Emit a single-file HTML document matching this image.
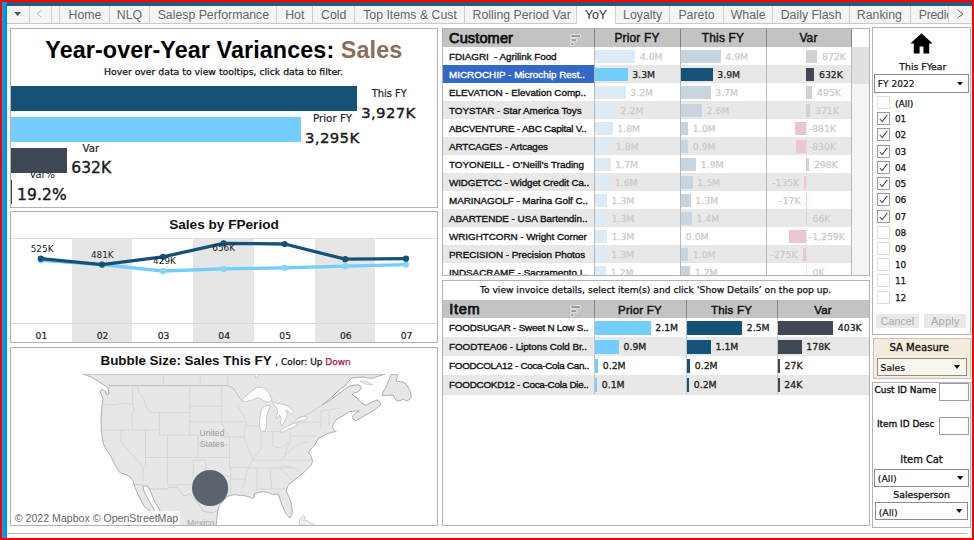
<!DOCTYPE html>
<html lang="en"><head><meta charset="utf-8"><title>Year-over-Year Variances: Sales</title>
<style>
html,body{margin:0;padding:0}
body{width:974px;height:540px;overflow:hidden;background:#ff0000;position:relative;font-family:"Liberation Sans",sans-serif}
.a{position:absolute;box-sizing:border-box}
.t{position:absolute;white-space:pre;display:block}
svg{position:absolute;overflow:visible}
</style></head><body>

<div class="a" style="left:2px;top:2px;width:970px;height:536px;background:#fff;"></div>
<div class="a" style="left:2px;top:2px;width:5px;height:536px;background:linear-gradient(90deg,#00a8ee,#0094dc 70%,#0a80bf);"></div>
<div class="a" style="left:7px;top:2px;width:965px;height:4px;background:#2a5978;"></div>
<div class="a" style="left:7px;top:6px;width:965px;height:18px;background:#f5f5f5;border-bottom:1px solid #c9c9c9;"></div>
<div class="a" style="left:29px;top:6px;width:1px;height:17px;background:#cfcfcf;"></div>
<div class="a" style="left:51px;top:6px;width:1px;height:17px;background:#cfcfcf;"></div>
<div class="a" style="left:59px;top:6px;width:1px;height:17px;background:#cfcfcf;"></div>
<div class="a" style="left:109px;top:6px;width:1px;height:17px;background:#cfcfcf;"></div>
<div class="a" style="left:149px;top:6px;width:1px;height:17px;background:#cfcfcf;"></div>
<div class="a" style="left:276px;top:6px;width:1px;height:17px;background:#cfcfcf;"></div>
<div class="a" style="left:312px;top:6px;width:1px;height:17px;background:#cfcfcf;"></div>
<div class="a" style="left:354px;top:6px;width:1px;height:17px;background:#cfcfcf;"></div>
<div class="a" style="left:464px;top:6px;width:1px;height:17px;background:#cfcfcf;"></div>
<div class="a" style="left:576px;top:6px;width:1px;height:17px;background:#cfcfcf;"></div>
<div class="a" style="left:615px;top:6px;width:1px;height:17px;background:#cfcfcf;"></div>
<div class="a" style="left:669px;top:6px;width:1px;height:17px;background:#cfcfcf;"></div>
<div class="a" style="left:723px;top:6px;width:1px;height:17px;background:#cfcfcf;"></div>
<div class="a" style="left:772px;top:6px;width:1px;height:17px;background:#cfcfcf;"></div>
<div class="a" style="left:849px;top:6px;width:1px;height:17px;background:#cfcfcf;"></div>
<div class="a" style="left:910px;top:6px;width:1px;height:17px;background:#cfcfcf;"></div>
<div class="a" style="left:948px;top:6px;width:1px;height:17px;background:#cfcfcf;"></div>
<div class="a" style="left:577px;top:6px;width:38px;height:18px;background:#fff;"></div>
<svg style="left:7px;top:6px" width="965" height="18"><path d="M7.2 6h6.9l-3.45 4z" fill="#555"/><path d="M34.8 4L30.1 7.8L34.8 11.6" fill="none" stroke="#bdbdbd" stroke-width="1"/><path d="M950.7 4L956 7.9L950.7 11.9" fill="none" stroke="#666" stroke-width="1"/></svg>
<span class="t" style="top:8.99px;font-size:12.3px;line-height:12.3px;color:#666;left:-215.0px;width:600px;text-align:center;">Home</span>
<span class="t" style="top:8.99px;font-size:12.3px;line-height:12.3px;color:#666;left:-170.5px;width:600px;text-align:center;">NLQ</span>
<span class="t" style="top:8.99px;font-size:12.3px;line-height:12.3px;color:#666;left:-86.65px;width:600px;text-align:center;">Salesp Performance</span>
<span class="t" style="top:8.99px;font-size:12.3px;line-height:12.3px;color:#666;left:-5.25px;width:600px;text-align:center;">Hot</span>
<span class="t" style="top:8.99px;font-size:12.3px;line-height:12.3px;color:#666;left:33.69999999999999px;width:600px;text-align:center;">Cold</span>
<span class="t" style="top:8.99px;font-size:12.3px;line-height:12.3px;color:#666;left:110.0px;width:600px;text-align:center;">Top Items &amp; Cust</span>
<span class="t" style="top:8.99px;font-size:12.3px;line-height:12.3px;color:#666;left:221.64999999999998px;width:600px;text-align:center;">Rolling Period Var</span>
<span class="t" style="top:8.99px;font-size:12.3px;line-height:12.3px;color:#333;left:296.0px;width:600px;text-align:center;">YoY</span>
<span class="t" style="top:8.99px;font-size:12.3px;line-height:12.3px;color:#666;left:342.6px;width:600px;text-align:center;">Loyalty</span>
<span class="t" style="top:8.99px;font-size:12.3px;line-height:12.3px;color:#666;left:396.54999999999995px;width:600px;text-align:center;">Pareto</span>
<span class="t" style="top:8.99px;font-size:12.3px;line-height:12.3px;color:#666;left:448.15px;width:600px;text-align:center;">Whale</span>
<span class="t" style="top:8.99px;font-size:12.3px;line-height:12.3px;color:#666;left:511.15px;width:600px;text-align:center;">Daily Flash</span>
<span class="t" style="top:8.99px;font-size:12.3px;line-height:12.3px;color:#666;left:579.4px;width:600px;text-align:center;">Ranking</span>
<div class="a" style="left:911px;top:6px;width:37px;height:17px;overflow:hidden"><span class="t" style="left:7.7px;top:2.6px;font-size:12.3px;line-height:12.3px;letter-spacing:-0.25px;color:#666">Predictions</span></div>
<div class="a" style="left:10px;top:28px;width:428px;height:180px;border:1px solid #b3b3b3;"></div>
<span class="t" style="left:45.3px;top:38.99px;font-size:23.3px;line-height:23.3px;letter-spacing:0.11px;font-weight:bold;color:#000">Year-over-Year Variances: <span style="color:#8b6d5c">Sales</span></span>
<span class="t" style="top:67.43px;font-size:9.3px;line-height:9.3px;color:#111;font-family:'DejaVu Sans', 'Liberation Sans', sans-serif;left:104px;-webkit-text-stroke:0.25px #111;">Hover over data to view tooltips, click data to filter.</span>
<span class="t" style="top:170.32px;font-size:9.9px;line-height:9.9px;color:#222;font-family:'DejaVu Sans', 'Liberation Sans', sans-serif;left:29.4px;">Var%</span>
<div class="a" style="left:11px;top:85.6px;width:346px;height:25px;background:#165277;"></div>
<div class="a" style="left:11px;top:117px;width:290px;height:25px;background:#73cefd;"></div>
<div class="a" style="left:11px;top:148px;width:56px;height:24.6px;background:#404754;"></div>
<div class="a" style="left:11px;top:179.5px;width:1.3px;height:24.5px;background:#404754;"></div>
<span class="t" style="top:88.82px;font-size:9.9px;line-height:9.9px;color:#222;font-family:'DejaVu Sans', 'Liberation Sans', sans-serif;left:371.8px;-webkit-text-stroke:0.2px #222;">This FY</span>
<span class="t" style="top:106.49px;font-size:14.9px;line-height:14.9px;color:#1a1a1a;letter-spacing:0.35px;font-family:'DejaVu Sans', 'Liberation Sans', sans-serif;left:361.2px;-webkit-text-stroke:0.4px #1a1a1a;">3,927K</span>
<span class="t" style="top:113.49px;font-size:10.3px;line-height:10.3px;color:#222;font-family:'DejaVu Sans', 'Liberation Sans', sans-serif;left:313px;-webkit-text-stroke:0.2px #222;">Prior FY</span>
<span class="t" style="top:131.39px;font-size:14.9px;line-height:14.9px;color:#1a1a1a;letter-spacing:0.35px;font-family:'DejaVu Sans', 'Liberation Sans', sans-serif;left:305px;-webkit-text-stroke:0.4px #1a1a1a;">3,295K</span>
<span class="t" style="top:143.57px;font-size:10.2px;line-height:10.2px;color:#222;font-family:'DejaVu Sans', 'Liberation Sans', sans-serif;left:82.5px;-webkit-text-stroke:0.2px #222;">Var</span>
<span class="t" style="top:160.99px;font-size:15.5px;line-height:15.5px;color:#1a1a1a;letter-spacing:0.1px;font-family:'DejaVu Sans', 'Liberation Sans', sans-serif;left:71.2px;-webkit-text-stroke:0.4px #1a1a1a;">632K</span>
<span class="t" style="top:188.19px;font-size:15.5px;line-height:15.5px;color:#1a1a1a;letter-spacing:0.1px;font-family:'DejaVu Sans', 'Liberation Sans', sans-serif;left:17px;-webkit-text-stroke:0.4px #1a1a1a;">19.2%</span>
<div class="a" style="left:10px;top:211px;width:428px;height:132px;border:1px solid #b3b3b3;"></div>
<span class="t" style="top:217.69px;font-size:13.6px;line-height:13.6px;color:#111;font-weight:bold;left:-76px;width:600px;text-align:center;">Sales by FPeriod</span>
<div class="a" style="left:71.7px;top:238.5px;width:60.7px;height:103.5px;background:#e6e6e6;"></div>
<div class="a" style="left:193.10000000000002px;top:238.5px;width:60.7px;height:103.5px;background:#e6e6e6;"></div>
<div class="a" style="left:314.5px;top:238.5px;width:60.7px;height:103.5px;background:#e6e6e6;"></div>
<div class="a" style="left:11px;top:238px;width:426px;height:1px;background:#e0e0e0;"></div>
<div class="a" style="left:11px;top:323px;width:426px;height:1px;background:#d6d6d6;"></div>
<svg style="left:0;top:0" width="974" height="540"><polyline points="40.8,260.3 102,264.6 163,271 223.6,268.9 284.6,267.8 345.2,266.2 406,264.6" fill="none" stroke="#73cefd" stroke-width="3.3" stroke-linejoin="round"/><circle cx="40.8" cy="260.3" r="3.1" fill="#84d4ff"/><circle cx="102" cy="264.6" r="3.1" fill="#84d4ff"/><circle cx="163" cy="271" r="3.1" fill="#84d4ff"/><circle cx="223.6" cy="268.9" r="3.1" fill="#84d4ff"/><circle cx="284.6" cy="267.8" r="3.1" fill="#84d4ff"/><circle cx="345.2" cy="266.2" r="3.1" fill="#84d4ff"/><circle cx="406" cy="264.6" r="3.1" fill="#84d4ff"/><polyline points="40.8,258.7 102,264.6 163,256.8 223.6,243.4 284.6,244 345.2,259.2 406,258.7" fill="none" stroke="#165277" stroke-width="3.3" stroke-linejoin="round"/><circle cx="40.8" cy="258.7" r="3.1" fill="#165277"/><circle cx="102" cy="264.6" r="3.1" fill="#165277"/><circle cx="163" cy="256.8" r="3.1" fill="#165277"/><circle cx="223.6" cy="243.4" r="3.1" fill="#165277"/><circle cx="284.6" cy="244" r="3.1" fill="#165277"/><circle cx="345.2" cy="259.2" r="3.1" fill="#165277"/><circle cx="406" cy="258.7" r="3.1" fill="#165277"/></svg>
<span class="t" style="top:331.22px;font-size:9.2px;line-height:9.2px;color:#222;font-family:'DejaVu Sans', 'Liberation Sans', sans-serif;left:-258.6px;width:600px;text-align:center;-webkit-text-stroke:0.2px #222;">01</span>
<span class="t" style="top:331.22px;font-size:9.2px;line-height:9.2px;color:#222;font-family:'DejaVu Sans', 'Liberation Sans', sans-serif;left:-197.4px;width:600px;text-align:center;-webkit-text-stroke:0.2px #222;">02</span>
<span class="t" style="top:331.22px;font-size:9.2px;line-height:9.2px;color:#222;font-family:'DejaVu Sans', 'Liberation Sans', sans-serif;left:-136.4px;width:600px;text-align:center;-webkit-text-stroke:0.2px #222;">03</span>
<span class="t" style="top:331.22px;font-size:9.2px;line-height:9.2px;color:#222;font-family:'DejaVu Sans', 'Liberation Sans', sans-serif;left:-75.80000000000001px;width:600px;text-align:center;-webkit-text-stroke:0.2px #222;">04</span>
<span class="t" style="top:331.22px;font-size:9.2px;line-height:9.2px;color:#222;font-family:'DejaVu Sans', 'Liberation Sans', sans-serif;left:-14.799999999999955px;width:600px;text-align:center;-webkit-text-stroke:0.2px #222;">05</span>
<span class="t" style="top:331.22px;font-size:9.2px;line-height:9.2px;color:#222;font-family:'DejaVu Sans', 'Liberation Sans', sans-serif;left:45.80000000000001px;width:600px;text-align:center;-webkit-text-stroke:0.2px #222;">06</span>
<span class="t" style="top:331.22px;font-size:9.2px;line-height:9.2px;color:#222;font-family:'DejaVu Sans', 'Liberation Sans', sans-serif;left:106.60000000000002px;width:600px;text-align:center;-webkit-text-stroke:0.2px #222;">07</span>
<span class="t" style="top:244.87px;font-size:8.9px;line-height:8.9px;color:#222;font-family:'DejaVu Sans', 'Liberation Sans', sans-serif;left:-257.9px;width:600px;text-align:center;">525K</span>
<span class="t" style="top:250.97px;font-size:8.9px;line-height:8.9px;color:#222;font-family:'DejaVu Sans', 'Liberation Sans', sans-serif;left:-197.7px;width:600px;text-align:center;">481K</span>
<span class="t" style="top:256.77px;font-size:8.9px;line-height:8.9px;color:#222;font-family:'DejaVu Sans', 'Liberation Sans', sans-serif;left:-135.5px;width:600px;text-align:center;">429K</span>
<span class="t" style="top:243.67px;font-size:8.9px;line-height:8.9px;color:#222;font-family:'DejaVu Sans', 'Liberation Sans', sans-serif;left:-76.30000000000001px;width:600px;text-align:center;">656K</span>
<div class="a" style="left:10px;top:347px;width:428px;height:179px;border:1px solid #b3b3b3;"></div>
<span class="t" style="top:353.76px;font-size:13.4px;line-height:13.4px;color:#111;font-weight:bold;left:100.5px;">Bubble Size: Sales This FY</span>
<span class="t" style="left:275.2px;top:358.49px;font-size:9px;line-height:9px;font-family:'DejaVu Sans', 'Liberation Sans', sans-serif;color:#111;-webkit-text-stroke:0.25px #111">, Color: Up <span style="color:#a3174b;-webkit-text-stroke:0.25px #a3174b">Down</span></span>
<svg style="left:11px;top:373px" width="426" height="152" viewBox="11 373 426 152"><defs><clipPath id="mc"><rect x="11" y="374" width="426" height="151"/></clipPath></defs><g clip-path="url(#mc)"><path d="M83,374 L385,374 L379,376 L372,378.5 L362,377 L352,378 L348,382 L346,385 L342,388 L338,391 L333,396 L327,401 L322,405 L329,401 L336,396 L341,392 L345,389 L350,386 L355,385 L359,385 L361.5,387 L360,390 L358,392 L354,393 L352,394.5 L355,396.5 L357,398 L359,400.5 L361,402.5 L364,404.5 L367,405 L370,403 L373,401.5 L377,400 L380,402 L380.7,405 L377,408 L371,412 L365,415.5 L360,418.5 L355.6,420.6 L353,419 L352.6,416 L355,413.5 L359.3,411 L355,411 L349,411.7 L345,414.5 L340,417.5 L335.6,420 L333.5,423.5 L332.6,427.3 L334,430 L336.3,431.7 L333,432 L328,433.5 L323,436 L319.3,437.6 L317,441 L314.8,445 L312.5,447.5 L310,450 L308.5,453 L310.5,455 L311.7,457.7 L312.5,461.5 L311,465.4 L307,469.5 L303.2,473 L297,478 L291,482.3 L287.5,486.5 L286.3,490.8 L288,495 L290,499.3 L291.5,505 L292.4,511.6 L291.5,515.5 L290,517.8 L288,516.5 L286.3,514.7 L284,509.5 L281.6,504 L280,499 L278.6,494.7 L275.5,494 L272.4,494.7 L268,492.5 L263.2,491.6 L258.5,492.5 L254,494 L254.5,497 L252.4,498.5 L248,496.5 L241.6,495.4 L234,494.7 L227.7,496.2 L223,501 L219.3,505.4 L217.8,511 L217,516.2 L216.2,526 L162,526 L159.6,509.6 L154,500.4 L151.3,493 L147.6,486 L143,485.6 L143.9,491 L146.5,496 L149.4,501.3 L154,509.6 L157,517 L158,522 L155,519 L150.4,511.5 L143.9,506 L141,500.4 L138,494.5 L135.6,489 L132.8,480 L128,475.4 L119.8,472.6 L115.2,465.2 L111.5,458 L109.6,454 L106,449 L103,443 L101.3,430 L101,417 L102,406 L103,398 L100,392 L102,389 L105,391 L107,395 L109,394 L108,388 L104,385 L98,381 L91,377 Z" fill="#e7e7e7" stroke="#a6a6a6" stroke-width="0.9" stroke-linejoin="round"/><path d="M382.2,395.4 L383.5,391 L386,387.3 L388.5,381 L391,374.7 L394.5,374 L397.8,374.5 L397,378 L396.3,381.3 L400.5,381.5 L405,382.8 L407.5,386 L409.6,390 L411,394 L411,397.6 L409,400 L406.7,401 L403,399 L400,401 L396.3,400.6 L394.5,398 L393.3,395.4 L388,395 L383,396 Z" fill="#e7e7e7" stroke="#a6a6a6" stroke-width="0.9"/><path d="M299,525 L299.5,520 L302,517 L304,515.5 L305,518 L303.5,521 L307,520.5 L310,523 L314,524 L316,526 Z" fill="#f2f2f2" stroke="#bdbdbd" stroke-width="0.7"/><path d="M360,381.2 L364,381 L368.5,382.5 L372.6,384.8 L368,384.8 L363.5,383.3 Z" fill="#ebebeb" stroke="#b9b9b9" stroke-width="0.6"/><path d="M241,400.5 L246,396 L252,391 L256.7,387.2 L261,387.5 L265.6,389 L269,393 L272.2,400 L269,402 L265,401.5 L261,399 L257,397.5 L254,399.5 L250,400.5 L246,401.5 Z" fill="#fff" stroke="#b9b9b9" stroke-width="0.7"/><path d="M263,407 L267,405.5 L271,406 L269,409 L267,414 L266.5,420 L266.7,426 L265,431 L261,431 L259.5,426 L259.5,420 L260.5,414 L261.5,410 Z" fill="#fff" stroke="#b9b9b9" stroke-width="0.7"/><path d="M272.5,401.5 L277,403.5 L283.3,404.5 L289,406.5 L293.9,412 L291,414.5 L288,411 L285.6,410 L287,414 L286,419 L283.5,423 L282.2,425.6 L280.5,423 L281,418 L279.5,415 L277.5,418.5 L276,418 L277.8,412.2 L276.7,407.8 L274,405 Z" fill="#fff" stroke="#b9b9b9" stroke-width="0.7"/><path d="M280,431 L283,428.5 L288,426 L293,423.5 L296.7,423 L297,425 L293,427.5 L288,429.5 L284,431.5 L281,432.5 Z" fill="#fff" stroke="#b9b9b9" stroke-width="0.7"/><path d="M295.5,420 L299,417.5 L304,416.5 L308,417 L306,419.5 L301,421 L297,421.5 Z" fill="#fff" stroke="#b9b9b9" stroke-width="0.7"/><path d="M255,374 L258,374 L257.5,377.5 L255.5,378 Z" fill="#fff" stroke="#b9b9b9" stroke-width="0.7"/><path d="M109,385.7 H227.8 L233,388 L236,392 L241,400" fill="none" stroke="#bdbdbd" stroke-width="1"/><path d="M297,419 L310,413 L322,405 M132,484 L142,485 L152,489 L166,489 L170,487 L176,487 L184,496 L190,494 L198,503 L203,511 L212,513 L217,511" fill="none" stroke="#c4c4c4" stroke-width="0.8"/><path d="M163.4,374 V385.7 M200.3,374 V385.7 M227.8,374 V385.7 M103,404 L112,405 L122,403.5 L132.6,404 M132.6,385.7 V404 L134,410 L131.5,416 L132.6,430 M137.3,385.7 L139,392 L144,399 L146,406 L150,412.5 L158.3,412.5 M158.3,412.5 H189.8 M159.5,412.5 V435 H198 M189.8,385.7 V435 M189.8,406.2 H221.3 M189.8,421.8 H221 L244.6,421.8 M101.5,430 H158.5 M121,430 V441.6 L143.1,467.3 L143,481.5 M145.5,430 V467 M167.6,435 V484.8 M145.5,457.5 H229.5 M198,435 V457.5 M198,445 H229.5 M193.3,460.3 H206 V473 L212,474.5 L220,476 L229.5,476.6 M193.3,460.3 V484.8 M167.6,484.8 H193.3 M221.3,385.7 L222,400 L221.3,421.8 L225,430 L229.5,437 V467.3 H249 M221,437 H244 M230.6,467.3 V479 H246 M230.6,479 V496 M237.6,405.6 L242,413 L246,422 L245,430 L244,437 L247,446 L250.6,453.7 L252.4,459 L250,465 L247.8,470.4 L245.5,477 L244,483.3 L242,489 M246,426 H259.5 M261,431.5 V450 L257,453.7 L252.4,459 M261,431.5 H281 M272.8,431.5 V446.3 L277,447.5 L281,448 L286,444.5 L290.4,440.7 V432.4 M290.4,422 H320 M290.4,436 H316.3 M321,411 V429.6 M329,411 V426 M321,411 L340,408 M252.4,460.2 H311 M248.7,468 H294 M257,468 V490.7 M270,468 L271.9,489 M257,489 H285 M279.3,468 L286,474 L294,481.5 M279.3,468 L281,465.7 L294,467.6 L301.5,474 M290.4,440.7 L287,448 L284.8,455.6 L281,460 M284.8,455.6 L291,450 L297.8,444.4 L307,441.7" fill="none" stroke="#d0d0d0" stroke-width="0.7"/></g><text x="212" y="435.5" text-anchor="middle" font-family="'Liberation Sans',sans-serif" font-size="8.6" fill="#9c9c9c">United</text><text x="212" y="447" text-anchor="middle" font-family="'Liberation Sans',sans-serif" font-size="8.6" fill="#9c9c9c">States</text><circle cx="210.1" cy="488" r="18.1" fill="#575d69" fill-opacity="0.97"/></svg>
<div class="a" style="left:185px;top:516px;width:40px;height:9px;overflow:hidden"><span class="t" style="left:2px;top:2.5px;font-size:8.6px;line-height:9px;color:#a5a5a5">Mexico</span></div>
<div class="a" style="left:12px;top:511px;width:168px;height:14px;background:rgba(255,255,255,0.75);"></div>
<span class="t" style="top:512.53px;font-size:10.6px;line-height:10.6px;color:#666;left:14.8px;">© 2022 Mapbox © OpenStreetMap</span>
<div class="a" style="left:442px;top:28px;width:428px;height:248px;border:1px solid #b3b3b3;"></div>
<div class="a" style="left:443px;top:29px;width:426px;height:246px;overflow:hidden">
<div class="a" style="left:0.00px;top:0.00px;width:408.00px;height:18.00px;background:#c3c3c3"></div>
<div class="a" style="left:408.00px;top:0.00px;width:18.00px;height:18.00px;background:#fff"></div>
<div class="a" style="left:408.00px;top:18.00px;width:18.00px;height:228.00px;background:#f4f4f4"></div>
<div class="a" style="left:408.00px;top:18.00px;width:18.00px;height:37.00px;background:#e1e1e1"></div>
<div class="a" style="left:0.00px;top:36.00px;width:408.00px;height:18.00px;background:#e8e8e8"></div>
<div class="a" style="left:0.00px;top:72.00px;width:408.00px;height:18.00px;background:#e8e8e8"></div>
<div class="a" style="left:0.00px;top:108.00px;width:408.00px;height:18.00px;background:#e8e8e8"></div>
<div class="a" style="left:0.00px;top:144.00px;width:408.00px;height:18.00px;background:#e8e8e8"></div>
<div class="a" style="left:0.00px;top:180.00px;width:408.00px;height:18.00px;background:#e8e8e8"></div>
<div class="a" style="left:0.00px;top:216.00px;width:408.00px;height:18.00px;background:#e8e8e8"></div>
<div class="a" style="left:363px;top:18px;width:0;height:228px;border-left:1px dotted #dadada"></div>
<span class="t" style="top:23.12px;font-size:9.9px;line-height:9.9px;color:#111;letter-spacing:-0.046px;left:6px;-webkit-text-stroke:0.35px #111;">FDIAGRI  - Agrilink Food</span>
<div class="a" style="left:151.50px;top:21.00px;width:40.50px;height:13.20px;background:#dcebf5"></div>
<span class="t" style="top:23.43px;font-size:9.3px;line-height:9.3px;color:#cbcbcb;font-family:'DejaVu Sans', 'Liberation Sans', sans-serif;left:196.79999999999995px;-webkit-text-stroke:0.25px #cbcbcb;">4.0M</span>
<div class="a" style="left:238.00px;top:21.00px;width:39.50px;height:13.20px;background:#c6d5e0"></div>
<span class="t" style="top:23.43px;font-size:9.3px;line-height:9.3px;color:#cbcbcb;font-family:'DejaVu Sans', 'Liberation Sans', sans-serif;left:282.29999999999995px;-webkit-text-stroke:0.25px #cbcbcb;">4.9M</span>
<div class="a" style="left:363.00px;top:21.00px;width:11.00px;height:13.20px;background:#d0d2d6"></div>
<span class="t" style="top:23.43px;font-size:9.3px;line-height:9.3px;color:#cbcbcb;font-family:'DejaVu Sans', 'Liberation Sans', sans-serif;left:379px;-webkit-text-stroke:0.25px #cbcbcb;">872K</span>
<div class="a" style="left:0.00px;top:36.00px;width:151.00px;height:18.00px;background:#3468c7"></div>
<span class="t" style="top:41.12px;font-size:9.9px;line-height:9.9px;color:#fff;letter-spacing:0.003px;left:6px;-webkit-text-stroke:0.35px #fff;">MICROCHIP - Microchip Rest..</span>
<div class="a" style="left:151.50px;top:39.00px;width:33.00px;height:13.20px;background:#73cefd"></div>
<span class="t" style="top:41.43px;font-size:9.3px;line-height:9.3px;color:#222;font-family:'DejaVu Sans', 'Liberation Sans', sans-serif;left:189.29999999999995px;-webkit-text-stroke:0.25px #222;">3.3M</span>
<div class="a" style="left:238.00px;top:39.00px;width:31.50px;height:13.20px;background:#165277"></div>
<span class="t" style="top:41.43px;font-size:9.3px;line-height:9.3px;color:#222;font-family:'DejaVu Sans', 'Liberation Sans', sans-serif;left:274.29999999999995px;-webkit-text-stroke:0.25px #222;">3.9M</span>
<div class="a" style="left:363.00px;top:39.00px;width:8.00px;height:13.20px;background:#404754"></div>
<span class="t" style="top:41.43px;font-size:9.3px;line-height:9.3px;color:#222;font-family:'DejaVu Sans', 'Liberation Sans', sans-serif;left:376px;-webkit-text-stroke:0.25px #222;">632K</span>
<span class="t" style="top:59.12px;font-size:9.9px;line-height:9.9px;color:#111;letter-spacing:-0.035px;left:6px;-webkit-text-stroke:0.35px #111;">ELEVATION - Elevation Comp..</span>
<div class="a" style="left:151.50px;top:57.00px;width:31.00px;height:13.20px;background:#dcebf5"></div>
<span class="t" style="top:59.43px;font-size:9.3px;line-height:9.3px;color:#cbcbcb;font-family:'DejaVu Sans', 'Liberation Sans', sans-serif;left:187.29999999999995px;-webkit-text-stroke:0.25px #cbcbcb;">3.2M</span>
<div class="a" style="left:238.00px;top:57.00px;width:29.50px;height:13.20px;background:#c6d5e0"></div>
<span class="t" style="top:59.43px;font-size:9.3px;line-height:9.3px;color:#cbcbcb;font-family:'DejaVu Sans', 'Liberation Sans', sans-serif;left:272.29999999999995px;-webkit-text-stroke:0.25px #cbcbcb;">3.7M</span>
<div class="a" style="left:363.00px;top:57.00px;width:6.00px;height:13.20px;background:#d0d2d6"></div>
<span class="t" style="top:59.43px;font-size:9.3px;line-height:9.3px;color:#cbcbcb;font-family:'DejaVu Sans', 'Liberation Sans', sans-serif;left:374px;-webkit-text-stroke:0.25px #cbcbcb;">495K</span>
<span class="t" style="top:77.12px;font-size:9.9px;line-height:9.9px;color:#111;letter-spacing:-0.05px;left:6px;-webkit-text-stroke:0.35px #111;">TOYSTAR - Star America Toys</span>
<div class="a" style="left:151.50px;top:75.00px;width:21.25px;height:13.20px;background:#dcebf5"></div>
<span class="t" style="top:77.43px;font-size:9.3px;line-height:9.3px;color:#cbcbcb;font-family:'DejaVu Sans', 'Liberation Sans', sans-serif;left:177.54999999999995px;-webkit-text-stroke:0.25px #cbcbcb;">2.2M</span>
<div class="a" style="left:238.00px;top:75.00px;width:20.75px;height:13.20px;background:#c6d5e0"></div>
<span class="t" style="top:77.43px;font-size:9.3px;line-height:9.3px;color:#cbcbcb;font-family:'DejaVu Sans', 'Liberation Sans', sans-serif;left:263.54999999999995px;-webkit-text-stroke:0.25px #cbcbcb;">2.6M</span>
<div class="a" style="left:363.00px;top:75.00px;width:4.00px;height:13.20px;background:#d0d2d6"></div>
<span class="t" style="top:77.43px;font-size:9.3px;line-height:9.3px;color:#cbcbcb;font-family:'DejaVu Sans', 'Liberation Sans', sans-serif;left:372px;-webkit-text-stroke:0.25px #cbcbcb;">371K</span>
<span class="t" style="top:95.12px;font-size:9.9px;line-height:9.9px;color:#111;letter-spacing:-0.216px;left:6px;-webkit-text-stroke:0.35px #111;">ABCVENTURE - ABC Capital V..</span>
<div class="a" style="left:151.50px;top:93.00px;width:18.00px;height:13.20px;background:#dcebf5"></div>
<span class="t" style="top:95.43px;font-size:9.3px;line-height:9.3px;color:#cbcbcb;font-family:'DejaVu Sans', 'Liberation Sans', sans-serif;left:174.29999999999995px;-webkit-text-stroke:0.25px #cbcbcb;">1.8M</span>
<div class="a" style="left:238.00px;top:93.00px;width:7.00px;height:13.20px;background:#c6d5e0"></div>
<span class="t" style="top:95.43px;font-size:9.3px;line-height:9.3px;color:#cbcbcb;font-family:'DejaVu Sans', 'Liberation Sans', sans-serif;left:249.79999999999995px;-webkit-text-stroke:0.25px #cbcbcb;">1.0M</span>
<div class="a" style="left:351.50px;top:93.00px;width:11.50px;height:13.20px;background:#ebc6cf"></div>
<span class="t" style="top:95.43px;font-size:9.3px;line-height:9.3px;color:#cbcbcb;font-family:'DejaVu Sans', 'Liberation Sans', sans-serif;left:365.79999999999995px;-webkit-text-stroke:0.25px #cbcbcb;">-881K</span>
<span class="t" style="top:113.12px;font-size:9.9px;line-height:9.9px;color:#111;letter-spacing:-0.13px;left:6px;-webkit-text-stroke:0.35px #111;">ARTCAGES - Artcages</span>
<div class="a" style="left:151.50px;top:111.00px;width:16.50px;height:13.20px;background:#dcebf5"></div>
<span class="t" style="top:113.43px;font-size:9.3px;line-height:9.3px;color:#cbcbcb;font-family:'DejaVu Sans', 'Liberation Sans', sans-serif;left:172.79999999999995px;-webkit-text-stroke:0.25px #cbcbcb;">1.8M</span>
<div class="a" style="left:238.00px;top:111.00px;width:7.00px;height:13.20px;background:#c6d5e0"></div>
<span class="t" style="top:113.43px;font-size:9.3px;line-height:9.3px;color:#cbcbcb;font-family:'DejaVu Sans', 'Liberation Sans', sans-serif;left:249.79999999999995px;-webkit-text-stroke:0.25px #cbcbcb;">0.9M</span>
<div class="a" style="left:352.50px;top:111.00px;width:10.50px;height:13.20px;background:#ebc6cf"></div>
<span class="t" style="top:113.43px;font-size:9.3px;line-height:9.3px;color:#cbcbcb;font-family:'DejaVu Sans', 'Liberation Sans', sans-serif;left:365.79999999999995px;-webkit-text-stroke:0.25px #cbcbcb;">-830K</span>
<span class="t" style="top:131.12px;font-size:9.9px;line-height:9.9px;color:#111;letter-spacing:-0.01px;left:6px;-webkit-text-stroke:0.35px #111;">TOYONEILL - O’Neill’s Trading</span>
<div class="a" style="left:151.50px;top:129.00px;width:16.00px;height:13.20px;background:#dcebf5"></div>
<span class="t" style="top:131.43px;font-size:9.3px;line-height:9.3px;color:#cbcbcb;font-family:'DejaVu Sans', 'Liberation Sans', sans-serif;left:172.29999999999995px;-webkit-text-stroke:0.25px #cbcbcb;">1.7M</span>
<div class="a" style="left:238.00px;top:129.00px;width:15.00px;height:13.20px;background:#c6d5e0"></div>
<span class="t" style="top:131.43px;font-size:9.3px;line-height:9.3px;color:#cbcbcb;font-family:'DejaVu Sans', 'Liberation Sans', sans-serif;left:257.79999999999995px;-webkit-text-stroke:0.25px #cbcbcb;">1.9M</span>
<div class="a" style="left:363.00px;top:129.00px;width:3.00px;height:13.20px;background:#d0d2d6"></div>
<span class="t" style="top:131.43px;font-size:9.3px;line-height:9.3px;color:#cbcbcb;font-family:'DejaVu Sans', 'Liberation Sans', sans-serif;left:371px;-webkit-text-stroke:0.25px #cbcbcb;">298K</span>
<span class="t" style="top:149.12px;font-size:9.9px;line-height:9.9px;color:#111;letter-spacing:-0.108px;left:6px;-webkit-text-stroke:0.35px #111;">WIDGETCC - Widget Credit Ca..</span>
<div class="a" style="left:151.50px;top:147.00px;width:15.50px;height:13.20px;background:#dcebf5"></div>
<span class="t" style="top:149.43px;font-size:9.3px;line-height:9.3px;color:#cbcbcb;font-family:'DejaVu Sans', 'Liberation Sans', sans-serif;left:171.79999999999995px;-webkit-text-stroke:0.25px #cbcbcb;">1.6M</span>
<div class="a" style="left:238.00px;top:147.00px;width:11.50px;height:13.20px;background:#c6d5e0"></div>
<span class="t" style="top:149.43px;font-size:9.3px;line-height:9.3px;color:#cbcbcb;font-family:'DejaVu Sans', 'Liberation Sans', sans-serif;left:254.29999999999995px;-webkit-text-stroke:0.25px #cbcbcb;">1.5M</span>
<div class="a" style="left:361.25px;top:147.00px;width:1.75px;height:13.20px;background:#ebc6cf"></div>
<span class="t" style="top:149.43px;font-size:9.3px;line-height:9.3px;color:#cbcbcb;font-family:'DejaVu Sans', 'Liberation Sans', sans-serif;left:-243.75px;width:600px;text-align:right;-webkit-text-stroke:0.25px #cbcbcb;">-135K</span>
<span class="t" style="top:167.12px;font-size:9.9px;line-height:9.9px;color:#111;letter-spacing:-0.058px;left:6px;-webkit-text-stroke:0.35px #111;">MARINAGOLF - Marina Golf C..</span>
<div class="a" style="left:151.50px;top:165.00px;width:12.25px;height:13.20px;background:#dcebf5"></div>
<span class="t" style="top:167.43px;font-size:9.3px;line-height:9.3px;color:#cbcbcb;font-family:'DejaVu Sans', 'Liberation Sans', sans-serif;left:168.54999999999995px;-webkit-text-stroke:0.25px #cbcbcb;">1.3M</span>
<div class="a" style="left:238.00px;top:165.00px;width:9.75px;height:13.20px;background:#c6d5e0"></div>
<span class="t" style="top:167.43px;font-size:9.3px;line-height:9.3px;color:#cbcbcb;font-family:'DejaVu Sans', 'Liberation Sans', sans-serif;left:252.54999999999995px;-webkit-text-stroke:0.25px #cbcbcb;">1.3M</span>
<div class="a" style="left:362.50px;top:165.00px;width:0.50px;height:13.20px;background:#ebc6cf"></div>
<span class="t" style="top:167.43px;font-size:9.3px;line-height:9.3px;color:#cbcbcb;font-family:'DejaVu Sans', 'Liberation Sans', sans-serif;left:-242.5px;width:600px;text-align:right;-webkit-text-stroke:0.25px #cbcbcb;">-17K</span>
<span class="t" style="top:185.12px;font-size:9.9px;line-height:9.9px;color:#111;letter-spacing:-0.031px;left:6px;-webkit-text-stroke:0.35px #111;">ABARTENDE - USA Bartendin..</span>
<div class="a" style="left:151.50px;top:183.00px;width:12.25px;height:13.20px;background:#dcebf5"></div>
<span class="t" style="top:185.43px;font-size:9.3px;line-height:9.3px;color:#cbcbcb;font-family:'DejaVu Sans', 'Liberation Sans', sans-serif;left:168.54999999999995px;-webkit-text-stroke:0.25px #cbcbcb;">1.3M</span>
<div class="a" style="left:238.00px;top:183.00px;width:10.75px;height:13.20px;background:#c6d5e0"></div>
<span class="t" style="top:185.43px;font-size:9.3px;line-height:9.3px;color:#cbcbcb;font-family:'DejaVu Sans', 'Liberation Sans', sans-serif;left:253.54999999999995px;-webkit-text-stroke:0.25px #cbcbcb;">1.4M</span>
<div class="a" style="left:363.00px;top:183.00px;width:1.00px;height:13.20px;background:#d0d2d6"></div>
<span class="t" style="top:185.43px;font-size:9.3px;line-height:9.3px;color:#cbcbcb;font-family:'DejaVu Sans', 'Liberation Sans', sans-serif;left:369.5px;-webkit-text-stroke:0.25px #cbcbcb;">66K</span>
<span class="t" style="top:203.12px;font-size:9.9px;line-height:9.9px;color:#111;letter-spacing:-0.055px;left:6px;-webkit-text-stroke:0.35px #111;">WRIGHTCORN - Wright Corner</span>
<div class="a" style="left:151.50px;top:201.00px;width:12.25px;height:13.20px;background:#dcebf5"></div>
<span class="t" style="top:203.43px;font-size:9.3px;line-height:9.3px;color:#cbcbcb;font-family:'DejaVu Sans', 'Liberation Sans', sans-serif;left:168.54999999999995px;-webkit-text-stroke:0.25px #cbcbcb;">1.3M</span>
<span class="t" style="top:203.43px;font-size:9.3px;line-height:9.3px;color:#cbcbcb;font-family:'DejaVu Sans', 'Liberation Sans', sans-serif;left:242.79999999999995px;-webkit-text-stroke:0.25px #cbcbcb;">0.0M</span>
<div class="a" style="left:346.00px;top:201.00px;width:17.00px;height:13.20px;background:#ebc6cf"></div>
<span class="t" style="top:203.43px;font-size:9.3px;line-height:9.3px;color:#cbcbcb;font-family:'DejaVu Sans', 'Liberation Sans', sans-serif;left:365.79999999999995px;-webkit-text-stroke:0.25px #cbcbcb;">-1,259K</span>
<span class="t" style="top:221.12px;font-size:9.9px;line-height:9.9px;color:#111;letter-spacing:-0.037px;left:6px;-webkit-text-stroke:0.35px #111;">PRECISION - Precision Photos</span>
<div class="a" style="left:151.50px;top:219.00px;width:12.00px;height:13.20px;background:#dcebf5"></div>
<span class="t" style="top:221.43px;font-size:9.3px;line-height:9.3px;color:#cbcbcb;font-family:'DejaVu Sans', 'Liberation Sans', sans-serif;left:168.29999999999995px;-webkit-text-stroke:0.25px #cbcbcb;">1.3M</span>
<div class="a" style="left:238.00px;top:219.00px;width:7.00px;height:13.20px;background:#c6d5e0"></div>
<span class="t" style="top:221.43px;font-size:9.3px;line-height:9.3px;color:#cbcbcb;font-family:'DejaVu Sans', 'Liberation Sans', sans-serif;left:249.79999999999995px;-webkit-text-stroke:0.25px #cbcbcb;">1.0M</span>
<div class="a" style="left:359.50px;top:219.00px;width:3.50px;height:13.20px;background:#ebc6cf"></div>
<span class="t" style="top:221.43px;font-size:9.3px;line-height:9.3px;color:#cbcbcb;font-family:'DejaVu Sans', 'Liberation Sans', sans-serif;left:-245.5px;width:600px;text-align:right;-webkit-text-stroke:0.25px #cbcbcb;">-275K</span>
<span class="t" style="top:239.12px;font-size:9.9px;line-height:9.9px;color:#111;letter-spacing:0.006px;left:6px;-webkit-text-stroke:0.35px #111;">INDSACRAME - Sacramento I..</span>
<div class="a" style="left:151.50px;top:237.00px;width:11.50px;height:13.20px;background:#dcebf5"></div>
<span class="t" style="top:239.43px;font-size:9.3px;line-height:9.3px;color:#cbcbcb;font-family:'DejaVu Sans', 'Liberation Sans', sans-serif;left:167.79999999999995px;-webkit-text-stroke:0.25px #cbcbcb;">1.2M</span>
<div class="a" style="left:238.00px;top:237.00px;width:9.00px;height:13.20px;background:#c6d5e0"></div>
<span class="t" style="top:239.43px;font-size:9.3px;line-height:9.3px;color:#cbcbcb;font-family:'DejaVu Sans', 'Liberation Sans', sans-serif;left:251.79999999999995px;-webkit-text-stroke:0.25px #cbcbcb;">1.2M</span>
<span class="t" style="top:239.43px;font-size:9.3px;line-height:9.3px;color:#cbcbcb;font-family:'DejaVu Sans', 'Liberation Sans', sans-serif;left:369.5px;-webkit-text-stroke:0.25px #cbcbcb;">0K</span>
<div class="a" style="left:151.00px;top:18.00px;width:1.00px;height:228.00px;background:#b9b9b9"></div>
<div class="a" style="left:151.00px;top:0.00px;width:1.00px;height:18.00px;background:#828282"></div>
<div class="a" style="left:237.00px;top:18.00px;width:1.00px;height:228.00px;background:#b9b9b9"></div>
<div class="a" style="left:237.00px;top:0.00px;width:1.00px;height:18.00px;background:#828282"></div>
<div class="a" style="left:323.00px;top:18.00px;width:1.00px;height:228.00px;background:#b9b9b9"></div>
<div class="a" style="left:323.00px;top:0.00px;width:1.00px;height:18.00px;background:#828282"></div>
<div class="a" style="left:408.00px;top:18.00px;width:1.00px;height:228.00px;background:#b9b9b9"></div>
<div class="a" style="left:408.00px;top:0.00px;width:1.00px;height:18.00px;background:#828282"></div>
<span class="t" style="top:1.85px;font-size:14.6px;line-height:14.6px;color:#111;letter-spacing:0.1px;left:6px;-webkit-text-stroke:0.75px #111;">Customer</span>
<span class="t" style="top:4.43px;font-size:11.9px;line-height:11.9px;color:#111;letter-spacing:0.2px;left:-106px;width:600px;text-align:center;-webkit-text-stroke:0.45px #111;">Prior FY</span>
<span class="t" style="top:4.43px;font-size:11.9px;line-height:11.9px;color:#111;letter-spacing:0.2px;left:-20px;width:600px;text-align:center;-webkit-text-stroke:0.45px #111;">This FY</span>
<span class="t" style="top:4.43px;font-size:11.9px;line-height:11.9px;color:#111;letter-spacing:0.2px;left:65.5px;width:600px;text-align:center;-webkit-text-stroke:0.45px #111;">Var</span>
<svg style="left:126.70000000000005px;top:4.5px" width="12" height="12"><rect x="0" y="0" width="11.4" height="4" rx="1.6" fill="#dedede"/><rect x="0" y="4" width="7.5" height="4" rx="1.6" fill="#dedede"/><rect x="0" y="8" width="4.6" height="4" rx="1.6" fill="#dedede"/><rect x="1.4" y="1.4" width="8.6" height="1.3" fill="#787878"/><rect x="1.4" y="5.4" width="4.7" height="1.3" fill="#787878"/><rect x="1.4" y="9.4" width="1.8" height="1.3" fill="#787878"/></svg>
</div>
<div class="a" style="left:442px;top:280px;width:428px;height:246px;border:1px solid #b3b3b3;"></div>
<span class="t" style="top:285.76px;font-size:9.15px;line-height:9.15px;color:#111;font-family:'DejaVu Sans', 'Liberation Sans', sans-serif;left:355.6px;width:600px;text-align:center;-webkit-text-stroke:0.25px #111;">To view invoice details, select item(s) and click ‘Show Details’ on the pop up.</span>
<div class="a" style="left:443px;top:300px;width:426px;height:18px;background:#c3c3c3;"></div>
<span class="t" style="top:322.92px;font-size:9.9px;line-height:9.9px;color:#111;letter-spacing:-0.232px;left:449px;-webkit-text-stroke:0.35px #111;">FOODSUGAR - Sweet N Low S..</span>
<div class="a" style="left:594.5px;top:321.2px;width:56.0px;height:13.8px;background:#73cefd;"></div>
<span class="t" style="top:323.43px;font-size:9.3px;line-height:9.3px;color:#222;font-family:'DejaVu Sans', 'Liberation Sans', sans-serif;left:655.3px;-webkit-text-stroke:0.3px #222;">2.1M</span>
<div class="a" style="left:687px;top:321.2px;width:55px;height:13.8px;background:#165277;"></div>
<span class="t" style="top:323.43px;font-size:9.3px;line-height:9.3px;color:#222;font-family:'DejaVu Sans', 'Liberation Sans', sans-serif;left:746.8px;-webkit-text-stroke:0.3px #222;">2.5M</span>
<div class="a" style="left:778px;top:321.2px;width:55px;height:13.8px;background:#404754;"></div>
<span class="t" style="top:323.43px;font-size:9.3px;line-height:9.3px;color:#222;font-family:'DejaVu Sans', 'Liberation Sans', sans-serif;left:837.8px;-webkit-text-stroke:0.3px #222;">403K</span>
<div class="a" style="left:443px;top:337px;width:426px;height:19px;background:#e8e8e8;"></div>
<span class="t" style="top:341.92px;font-size:9.9px;line-height:9.9px;color:#111;letter-spacing:-0.07px;left:449px;-webkit-text-stroke:0.35px #111;">FOODTEA06 - Liptons Cold Br..</span>
<div class="a" style="left:594.5px;top:340.2px;width:24.25px;height:13.8px;background:#73cefd;"></div>
<span class="t" style="top:342.43px;font-size:9.3px;line-height:9.3px;color:#222;font-family:'DejaVu Sans', 'Liberation Sans', sans-serif;left:623.55px;-webkit-text-stroke:0.3px #222;">0.9M</span>
<div class="a" style="left:687px;top:340.2px;width:23.75px;height:13.8px;background:#165277;"></div>
<span class="t" style="top:342.43px;font-size:9.3px;line-height:9.3px;color:#222;font-family:'DejaVu Sans', 'Liberation Sans', sans-serif;left:715.55px;-webkit-text-stroke:0.3px #222;">1.1M</span>
<div class="a" style="left:778px;top:340.2px;width:23.5px;height:13.8px;background:#404754;"></div>
<span class="t" style="top:342.43px;font-size:9.3px;line-height:9.3px;color:#222;font-family:'DejaVu Sans', 'Liberation Sans', sans-serif;left:806.3px;-webkit-text-stroke:0.3px #222;">178K</span>
<span class="t" style="top:360.92px;font-size:9.9px;line-height:9.9px;color:#111;letter-spacing:-0.292px;left:449px;-webkit-text-stroke:0.35px #111;">FOODCOLA12 - Coca-Cola Can..</span>
<div class="a" style="left:594.5px;top:359.2px;width:3.5px;height:13.8px;background:#73cefd;"></div>
<span class="t" style="top:361.43px;font-size:9.3px;line-height:9.3px;color:#222;font-family:'DejaVu Sans', 'Liberation Sans', sans-serif;left:602.8px;-webkit-text-stroke:0.3px #222;">0.2M</span>
<div class="a" style="left:687px;top:359.2px;width:3px;height:13.8px;background:#165277;"></div>
<span class="t" style="top:361.43px;font-size:9.3px;line-height:9.3px;color:#222;font-family:'DejaVu Sans', 'Liberation Sans', sans-serif;left:694.8px;-webkit-text-stroke:0.3px #222;">0.2M</span>
<div class="a" style="left:778px;top:359.2px;width:1.75px;height:13.8px;background:#404754;"></div>
<span class="t" style="top:361.43px;font-size:9.3px;line-height:9.3px;color:#222;font-family:'DejaVu Sans', 'Liberation Sans', sans-serif;left:784.55px;-webkit-text-stroke:0.3px #222;">27K</span>
<div class="a" style="left:443px;top:375px;width:426px;height:19px;background:#e8e8e8;"></div>
<span class="t" style="top:379.92px;font-size:9.9px;line-height:9.9px;color:#111;letter-spacing:-0.252px;left:449px;-webkit-text-stroke:0.35px #111;">FOODCOKD12 - Coca-Cola Die..</span>
<div class="a" style="left:594.5px;top:378.2px;width:2.5px;height:13.8px;background:#73cefd;"></div>
<span class="t" style="top:380.43px;font-size:9.3px;line-height:9.3px;color:#222;font-family:'DejaVu Sans', 'Liberation Sans', sans-serif;left:601.8px;-webkit-text-stroke:0.3px #222;">0.1M</span>
<div class="a" style="left:687px;top:378.2px;width:2px;height:13.8px;background:#165277;"></div>
<span class="t" style="top:380.43px;font-size:9.3px;line-height:9.3px;color:#222;font-family:'DejaVu Sans', 'Liberation Sans', sans-serif;left:693.8px;-webkit-text-stroke:0.3px #222;">0.2M</span>
<div class="a" style="left:778px;top:378.2px;width:1.5px;height:13.8px;background:#404754;"></div>
<span class="t" style="top:380.43px;font-size:9.3px;line-height:9.3px;color:#222;font-family:'DejaVu Sans', 'Liberation Sans', sans-serif;left:784.3px;-webkit-text-stroke:0.3px #222;">24K</span>
<div class="a" style="left:594px;top:300px;width:1px;height:18px;background:#828282;"></div>
<div class="a" style="left:594px;top:318px;width:1px;height:76px;background:#c4c4c4;"></div>
<div class="a" style="left:686px;top:300px;width:1px;height:18px;background:#828282;"></div>
<div class="a" style="left:686px;top:318px;width:1px;height:76px;background:#c4c4c4;"></div>
<div class="a" style="left:777px;top:300px;width:1px;height:18px;background:#828282;"></div>
<div class="a" style="left:777px;top:318px;width:1px;height:76px;background:#c4c4c4;"></div>
<div class="a" style="left:443px;top:394px;width:426px;height:1px;background:#e4e4e4;"></div>
<span class="t" style="top:301.75px;font-size:14.6px;line-height:14.6px;color:#111;letter-spacing:0.7px;left:449.3px;-webkit-text-stroke:0.75px #111;">Item</span>
<span class="t" style="top:304.77px;font-size:11.5px;line-height:11.5px;color:#111;letter-spacing:0.2px;left:340px;width:600px;text-align:center;-webkit-text-stroke:0.45px #111;">Prior FY</span>
<span class="t" style="top:304.77px;font-size:11.5px;line-height:11.5px;color:#111;letter-spacing:0.2px;left:431.5px;width:600px;text-align:center;-webkit-text-stroke:0.45px #111;">This FY</span>
<span class="t" style="top:304.77px;font-size:11.5px;line-height:11.5px;color:#111;letter-spacing:0.2px;left:523px;width:600px;text-align:center;-webkit-text-stroke:0.45px #111;">Var</span>
<svg style="left:569.7px;top:304.5px" width="12" height="12"><rect x="0" y="0" width="11.4" height="4" rx="1.6" fill="#dedede"/><rect x="0" y="4" width="7.5" height="4" rx="1.6" fill="#dedede"/><rect x="0" y="8" width="4.6" height="4" rx="1.6" fill="#dedede"/><rect x="1.4" y="1.4" width="8.6" height="1.3" fill="#787878"/><rect x="1.4" y="5.4" width="4.7" height="1.3" fill="#787878"/><rect x="1.4" y="9.4" width="1.8" height="1.3" fill="#787878"/></svg>
<div class="a" style="left:872px;top:27px;width:99px;height:308px;border:1px solid #b3b3b3;"></div>
<div class="a" style="left:872px;top:382px;width:99px;height:146px;border:1px solid #b3b3b3;"></div>
<svg style="left:910px;top:32.5px" width="23" height="21" viewBox="0 0 23 21"><path d="M11.5 0.3 L22.6 10.6 H19.2 V20.5 H13.4 V13.4 H9.6 V20.5 H3.8 V10.6 H0.4 Z" fill="#000"/></svg>
<span class="t" style="top:61.53px;font-size:9.3px;line-height:9.3px;color:#111;font-family:'DejaVu Sans', 'Liberation Sans', sans-serif;left:622.85px;width:600px;text-align:center;-webkit-text-stroke:0.25px #111;">This FYear</span>
<div class="a" style="left:874px;top:74px;width:95px;height:19px;background:#fff;border:1px solid #8c8c8c;"></div>
<span class="t" style="top:79.64px;font-size:9.05px;line-height:9.05px;color:#111;font-family:'DejaVu Sans', 'Liberation Sans', sans-serif;left:877.8px;-webkit-text-stroke:0.2px #111;">FY 2022</span>
<svg style="left:957.2px;top:82px" width="7" height="4"><path d="M0 0h6l-3 3.4z" fill="#111"/></svg>
<div class="a" style="left:877px;top:96px;width:13px;height:13px;background:#fff;border:1px solid #dedede;"></div>
<span class="t" style="top:98.72px;font-size:9.2px;line-height:9.2px;color:#111;font-family:'DejaVu Sans', 'Liberation Sans', sans-serif;left:894.9px;-webkit-text-stroke:0.25px #111;">(All)</span>
<div class="a" style="left:877px;top:112px;width:13px;height:13px;background:#fff;border:1px solid #9a9a9a;"></div>
<svg style="left:879px;top:114px" width="10" height="9"><path d="M0.8 4.8 L3.3 7.6 L8.3 0.8" fill="none" stroke="#555" stroke-width="1.1"/></svg>
<span class="t" style="top:115.19px;font-size:8.9px;line-height:8.9px;color:#111;font-family:'DejaVu Sans', 'Liberation Sans', sans-serif;left:894.9px;-webkit-text-stroke:0.25px #111;">01</span>
<div class="a" style="left:877px;top:128px;width:13px;height:13px;background:#fff;border:1px solid #9a9a9a;"></div>
<svg style="left:879px;top:130px" width="10" height="9"><path d="M0.8 4.8 L3.3 7.6 L8.3 0.8" fill="none" stroke="#555" stroke-width="1.1"/></svg>
<span class="t" style="top:131.41px;font-size:8.9px;line-height:8.9px;color:#111;font-family:'DejaVu Sans', 'Liberation Sans', sans-serif;left:894.9px;-webkit-text-stroke:0.25px #111;">02</span>
<div class="a" style="left:877px;top:145px;width:13px;height:13px;background:#fff;border:1px solid #9a9a9a;"></div>
<svg style="left:879px;top:147px" width="10" height="9"><path d="M0.8 4.8 L3.3 7.6 L8.3 0.8" fill="none" stroke="#555" stroke-width="1.1"/></svg>
<span class="t" style="top:147.63px;font-size:8.9px;line-height:8.9px;color:#111;font-family:'DejaVu Sans', 'Liberation Sans', sans-serif;left:894.9px;-webkit-text-stroke:0.25px #111;">03</span>
<div class="a" style="left:877px;top:161px;width:13px;height:13px;background:#fff;border:1px solid #9a9a9a;"></div>
<svg style="left:879px;top:163px" width="10" height="9"><path d="M0.8 4.8 L3.3 7.6 L8.3 0.8" fill="none" stroke="#555" stroke-width="1.1"/></svg>
<span class="t" style="top:163.85px;font-size:8.9px;line-height:8.9px;color:#111;font-family:'DejaVu Sans', 'Liberation Sans', sans-serif;left:894.9px;-webkit-text-stroke:0.25px #111;">04</span>
<div class="a" style="left:877px;top:177px;width:13px;height:13px;background:#fff;border:1px solid #9a9a9a;"></div>
<svg style="left:879px;top:179px" width="10" height="9"><path d="M0.8 4.8 L3.3 7.6 L8.3 0.8" fill="none" stroke="#555" stroke-width="1.1"/></svg>
<span class="t" style="top:180.07px;font-size:8.9px;line-height:8.9px;color:#111;font-family:'DejaVu Sans', 'Liberation Sans', sans-serif;left:894.9px;-webkit-text-stroke:0.25px #111;">05</span>
<div class="a" style="left:877px;top:193px;width:13px;height:13px;background:#fff;border:1px solid #9a9a9a;"></div>
<svg style="left:879px;top:195px" width="10" height="9"><path d="M0.8 4.8 L3.3 7.6 L8.3 0.8" fill="none" stroke="#555" stroke-width="1.1"/></svg>
<span class="t" style="top:196.29px;font-size:8.9px;line-height:8.9px;color:#111;font-family:'DejaVu Sans', 'Liberation Sans', sans-serif;left:894.9px;-webkit-text-stroke:0.25px #111;">06</span>
<div class="a" style="left:877px;top:210px;width:13px;height:13px;background:#fff;border:1px solid #9a9a9a;"></div>
<svg style="left:879px;top:212px" width="10" height="9"><path d="M0.8 4.8 L3.3 7.6 L8.3 0.8" fill="none" stroke="#555" stroke-width="1.1"/></svg>
<span class="t" style="top:212.51px;font-size:8.9px;line-height:8.9px;color:#111;font-family:'DejaVu Sans', 'Liberation Sans', sans-serif;left:894.9px;-webkit-text-stroke:0.25px #111;">07</span>
<div class="a" style="left:877px;top:226px;width:13px;height:13px;background:#fff;border:1px solid #dedede;"></div>
<span class="t" style="top:228.73px;font-size:8.9px;line-height:8.9px;color:#111;font-family:'DejaVu Sans', 'Liberation Sans', sans-serif;left:894.9px;-webkit-text-stroke:0.25px #111;">08</span>
<div class="a" style="left:877px;top:242px;width:13px;height:13px;background:#fff;border:1px solid #dedede;"></div>
<span class="t" style="top:244.95px;font-size:8.9px;line-height:8.9px;color:#111;font-family:'DejaVu Sans', 'Liberation Sans', sans-serif;left:894.9px;-webkit-text-stroke:0.25px #111;">09</span>
<div class="a" style="left:877px;top:258px;width:13px;height:13px;background:#fff;border:1px solid #dedede;"></div>
<span class="t" style="top:261.17px;font-size:8.9px;line-height:8.9px;color:#111;font-family:'DejaVu Sans', 'Liberation Sans', sans-serif;left:894.9px;-webkit-text-stroke:0.25px #111;">10</span>
<div class="a" style="left:877px;top:274px;width:13px;height:13px;background:#fff;border:1px solid #dedede;"></div>
<span class="t" style="top:277.39px;font-size:8.9px;line-height:8.9px;color:#111;font-family:'DejaVu Sans', 'Liberation Sans', sans-serif;left:894.9px;-webkit-text-stroke:0.25px #111;">11</span>
<div class="a" style="left:877px;top:291px;width:13px;height:13px;background:#fff;border:1px solid #dedede;"></div>
<span class="t" style="top:293.61px;font-size:8.9px;line-height:8.9px;color:#111;font-family:'DejaVu Sans', 'Liberation Sans', sans-serif;left:894.9px;-webkit-text-stroke:0.25px #111;">12</span>
<div class="a" style="left:876px;top:314px;width:43px;height:14px;background:#e9e9e9;"></div>
<div class="a" style="left:924px;top:314px;width:42px;height:14px;background:#e9e9e9;"></div>
<span class="t" style="top:315.85px;font-size:10.7px;line-height:10.7px;color:#ababab;left:597.5px;width:600px;text-align:center;">Cancel</span>
<span class="t" style="top:315.68px;font-size:10.9px;line-height:10.9px;color:#ababab;letter-spacing:0.3px;left:645.4px;width:600px;text-align:center;">Apply</span>
<div class="a" style="left:873px;top:338px;width:98px;height:41px;background:#f5ecdc;border:1px solid #cbc5b9;"></div>
<span class="t" style="top:342.76px;font-size:10.1px;line-height:10.1px;color:#111;font-family:'DejaVu Sans', 'Liberation Sans', sans-serif;left:619.2px;width:600px;text-align:center;-webkit-text-stroke:0.35px #111;">SA Measure</span>
<div class="a" style="left:877px;top:358px;width:90px;height:17.5px;background:#f9f5ef;border:1px solid #8c8c8c;"></div>
<span class="t" style="top:363.32px;font-size:9.2px;line-height:9.2px;color:#111;font-family:'DejaVu Sans', 'Liberation Sans', sans-serif;left:880.6px;-webkit-text-stroke:0.2px #111;">Sales</span>
<svg style="left:954px;top:365px" width="7" height="5"><path d="M0 0h6l-3 4z" fill="#111"/></svg>
<span class="t" style="top:385.53px;font-size:8.95px;line-height:8.95px;color:#111;font-family:'DejaVu Sans', 'Liberation Sans', sans-serif;left:874.5px;-webkit-text-stroke:0.35px #111;">Cust ID Name</span>
<div class="a" style="left:939px;top:383px;width:30px;height:18px;background:#fff;border:1px solid #9c9c9c;"></div>
<span class="t" style="top:419.83px;font-size:8.95px;line-height:8.95px;color:#111;font-family:'DejaVu Sans', 'Liberation Sans', sans-serif;left:876.9px;-webkit-text-stroke:0.35px #111;">Item ID Desc</span>
<div class="a" style="left:939px;top:417px;width:30px;height:18px;background:#fff;border:1px solid #9c9c9c;"></div>
<span class="t" style="top:454.62px;font-size:9.9px;line-height:9.9px;color:#111;font-family:'DejaVu Sans', 'Liberation Sans', sans-serif;left:621.5px;width:600px;text-align:center;-webkit-text-stroke:0.3px #111;">Item Cat</span>
<div class="a" style="left:874px;top:469px;width:95px;height:18px;background:#fff;border:1px solid #8c8c8c;"></div>
<span class="t" style="top:474.25px;font-size:9.4px;line-height:9.4px;color:#111;font-family:'DejaVu Sans', 'Liberation Sans', sans-serif;left:877.8px;-webkit-text-stroke:0.2px #111;">(All)</span>
<svg style="left:957px;top:476.3px" width="7" height="5"><path d="M0 0h6.3l-3.15 4z" fill="#111"/></svg>
<span class="t" style="top:489.63px;font-size:9.3px;line-height:9.3px;color:#111;font-family:'DejaVu Sans', 'Liberation Sans', sans-serif;left:621.6px;width:600px;text-align:center;-webkit-text-stroke:0.3px #111;">Salesperson</span>
<div class="a" style="left:875px;top:502px;width:93px;height:18px;background:#fff;border:1px solid #8c8c8c;"></div>
<span class="t" style="top:507.55px;font-size:9.4px;line-height:9.4px;color:#111;font-family:'DejaVu Sans', 'Liberation Sans', sans-serif;left:878.7px;-webkit-text-stroke:0.2px #111;">(All)</span>
<svg style="left:956.2px;top:509.2px" width="7" height="5"><path d="M0 0h6.3l-3.15 4z" fill="#111"/></svg>
<div class="a" style="left:8px;top:533px;width:959px;height:1px;background:#b9b9b9;"></div>
</body></html>
